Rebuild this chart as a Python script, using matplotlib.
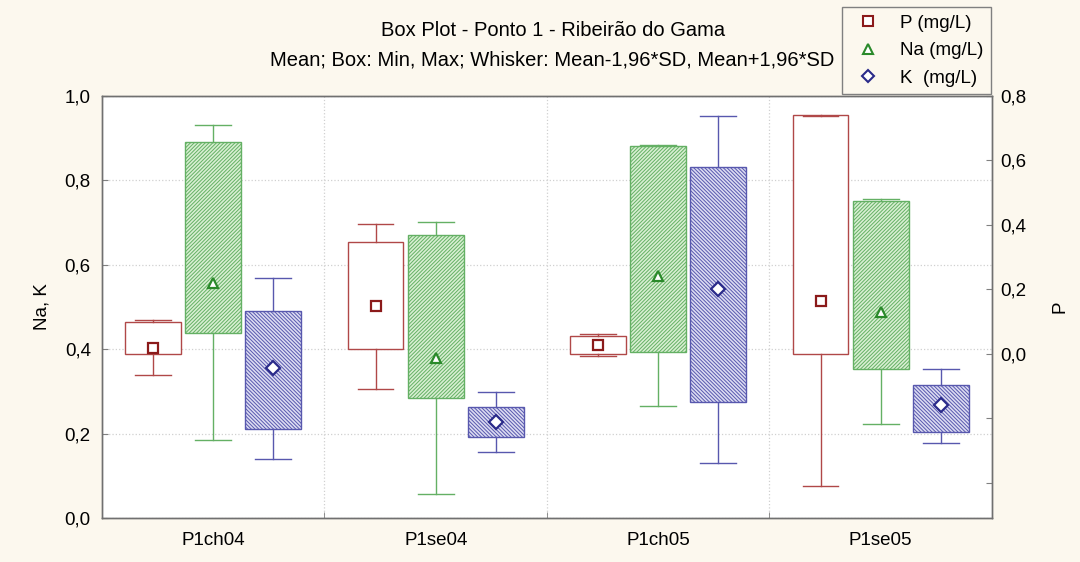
import matplotlib.pyplot as plt
from matplotlib.lines import Line2D
from matplotlib.ticker import FixedLocator, FuncFormatter

plt.rcParams['font.family'] = ['Liberation Sans', 'DejaVu Sans']
plt.rcParams['hatch.linewidth'] = 0.7

## données : moyenne, min/max (boîte), moyenne -/+ 1,96*SD (moustaches)
groupes = ['P1ch04', 'P1se04', 'P1ch05', 'P1se05']

p_moy = [0.019, 0.148, 0.026, 0.163]
p_min = [0.000, 0.016, 0.000, 0.000]
p_max = [0.097, 0.347, 0.056, 0.741]
p_bas = [-0.066, -0.110, -0.008, -0.411]
p_haut = [0.105, 0.404, 0.060, 0.737]

na_moy = [0.557, 0.380, 0.574, 0.489]
na_min = [0.439, 0.284, 0.393, 0.352]
na_max = [0.892, 0.671, 0.882, 0.751]
na_bas = [0.185, 0.057, 0.266, 0.223]
na_haut = [0.931, 0.702, 0.884, 0.756]

k_moy = [0.355, 0.228, 0.542, 0.268]
k_min = [0.210, 0.191, 0.276, 0.203]
k_max = [0.490, 0.264, 0.833, 0.316]
k_bas = [0.139, 0.156, 0.130, 0.177]
k_haut = [0.569, 0.299, 0.953, 0.352]

fond = '#fcf8ee'
rouge, rouge_m = '#b04848', '#8b1a1a'
vert, vert_f, vert_m = '#64b064', '#d8efd2', '#2a8a2a'
bleu, bleu_f, bleu_m = '#5858ae', '#dcdcf2', '#2a2a8a'
fs = 13.5


def stats(moy, mn, mx, bas, haut):
    return [dict(med=m, mean=m, q1=a, q3=b, whislo=c, whishi=d, fliers=[])
            for m, a, b, c, d in zip(moy, mn, mx, bas, haut)]


def boites(ax, st, dx, edge, face, hatch, mcol, marker):
    pos = [i + dx for i in range(len(st))]
    b = ax.bxp(st, positions=pos, widths=0.25, capwidths=0.16,
               patch_artist=True, showmeans=True, showfliers=False,
               boxprops=dict(facecolor=face, edgecolor=edge, linewidth=1.0,
                             hatch=hatch),
               whiskerprops=dict(color=edge, linewidth=1.0),
               capprops=dict(color=edge, linewidth=1.0),
               medianprops=dict(visible=False),
               meanprops=dict(marker=marker, markerfacecolor='white',
                              markeredgecolor=mcol, markersize=7,
                              markeredgewidth=1.6, linestyle='none'))
    return b


fig = plt.figure(figsize=(10.8, 5.62), dpi=100, facecolor=fond)
ax = fig.add_axes([0.0944, 0.0783, 0.8241, 0.7508])
ax2 = ax.twinx()

boites(ax, stats(na_moy, na_min, na_max, na_bas, na_haut), 0.0,
       vert, vert_f, '/' * 9, vert_m, '^')
boites(ax, stats(k_moy, k_min, k_max, k_bas, k_haut), 0.27,
       bleu, bleu_f, '\\' * 9, bleu_m, 'D')
boites(ax2, stats(p_moy, p_min, p_max, p_bas, p_haut), -0.27,
       rouge, 'white', None, rouge_m, 's')

virg = FuncFormatter(lambda v, _: ('%.1f' % v).replace('.', ','))

ax.set_xlim(-0.5, 3.5)
ax.set_ylim(0, 1.0)
ax.set_yticks([0, 0.2, 0.4, 0.6, 0.8, 1.0])
ax.yaxis.set_major_formatter(virg)
ax.set_xticks(range(4))
ax.set_xticklabels(groupes)
ax.xaxis.set_minor_locator(FixedLocator([0.5, 1.5, 2.5]))
ax.tick_params(axis='x', which='major', length=0, pad=10, labelsize=fs)
ax.tick_params(axis='x', which='minor', direction='in', length=4, color='#808080')
ax.tick_params(axis='y', direction='in', length=4, color='#808080', labelsize=fs, pad=8)
ax.grid(axis='y', color='#d0d0d0', linestyle=':', linewidth=0.9)
ax.grid(axis='x', which='minor', color='#d0d0d0', linestyle=':', linewidth=0.9)
ax.set_axisbelow(True)
ax.set_ylabel('Na, K', fontsize=fs, labelpad=10)

ax2.set_ylim(-0.51, 0.80)
ax2.yaxis.set_major_locator(FixedLocator([-0.4, -0.2, 0, 0.2, 0.4, 0.6, 0.8]))
ax2.yaxis.set_major_formatter(
    FuncFormatter(lambda v, _: '' if v < -0.01 else ('%.1f' % abs(v)).replace('.', ',')))
ax2.tick_params(axis='y', direction='in', length=4, color='#808080', labelsize=fs, pad=6)
ax2.set_ylabel('P', fontsize=fs, labelpad=18)

for a in (ax, ax2):
    for s in a.spines.values():
        s.set_color('#707070')
        s.set_linewidth(1.0)

fig.text(0.512, 0.945, 'Box Plot - Ponto 1 - Ribeirão do Gama',
         ha='center', va='center', fontsize=14.5)
fig.text(0.511, 0.893, 'Mean; Box: Min, Max; Whisker: Mean-1,96*SD, Mean+1,96*SD',
         ha='center', va='center', fontsize=14.5)

poignees = [
    Line2D([], [], linestyle='none', marker='s', markersize=7, markerfacecolor='white',
           markeredgecolor=rouge_m, markeredgewidth=1.5),
    Line2D([], [], linestyle='none', marker='^', markersize=7, markerfacecolor='white',
           markeredgecolor=vert_m, markeredgewidth=1.5),
    Line2D([], [], linestyle='none', marker='D', markersize=6, markerfacecolor='white',
           markeredgecolor=bleu_m, markeredgewidth=1.5),
]
leg = fig.legend(poignees, ['P (mg/L)', 'Na (mg/L)', 'K  (mg/L)'],
                 loc='upper left', bbox_to_anchor=(0.7796, 0.9875), borderaxespad=0,
                 fontsize=fs, frameon=True, fancybox=False, framealpha=1,
                 facecolor=fond, edgecolor='#808080', borderpad=0.4,
                 handletextpad=0.7, labelspacing=0.55, handlelength=2.0)
leg.get_frame().set_linewidth(1.0)
leg.set_zorder(10)

fig.savefig('out.png', dpi=100, facecolor=fond)
